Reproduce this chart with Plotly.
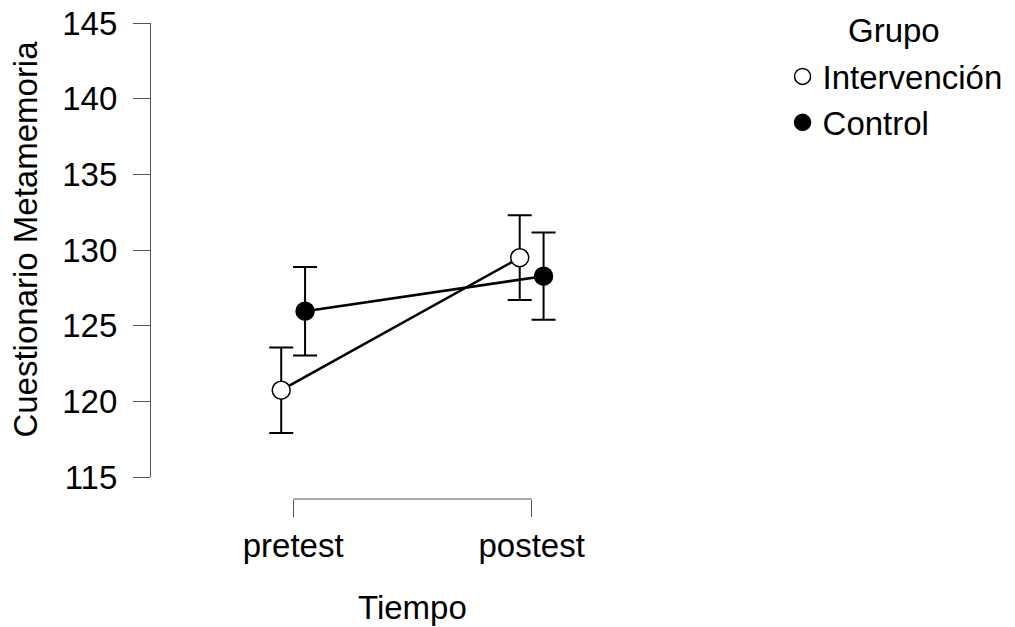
import plotly.graph_objects as go

# Data
categories = ["pretest", "postest"]
groups = ["Intervención", "Control"]
interv_mean = [120.75, 129.50]
interv_err = [2.82, 2.80]
control_mean = [125.97, 128.28]
control_err = [2.92, 2.88]
y_ticks = [115, 120, 125, 130, 135, 140, 145]

cat_pos = list(range(len(categories)))
dodge = 0.05
FONT = "Liberation Sans, Arial, sans-serif"
FS = 33
AXC = "#555555"

series = [
    (groups[0], interv_mean, interv_err, -dodge, "white"),
    (groups[1], control_mean, control_err, dodge, "black"),
]

fig = go.Figure()
# connecting lines first
for name, m, e, off, fill in series:
    xs = [p + off for p in cat_pos]
    fig.add_trace(go.Scatter(x=xs, y=m, mode="lines", showlegend=False,
                             line=dict(color="black", width=2.6), hoverinfo="skip"))
for name, m, e, off, fill in series:
    xs = [p + off for p in cat_pos]
    fig.add_trace(go.Scatter(
        x=xs, y=m, mode="markers", name=name,
        marker=dict(size=18, color=fill, line=dict(color="black", width=1.5)),
        error_y=dict(type="data", array=e, visible=True, color="black",
                     thickness=2, width=12),
    ))

# x-axis bracket line spanning the categories
fig.add_shape(type="line", xref="x", yref="paper", x0=cat_pos[0], x1=cat_pos[-1],
              y0=0, y1=0, line=dict(color=AXC, width=1.2))

fig.add_annotation(text="Tiempo", xref="x", yref="paper",
                   x=(cat_pos[0] + cat_pos[-1]) / 2, y=-0.228,
                   xanchor="center", yanchor="middle",
                   showarrow=False, font=dict(family=FONT, size=FS, color="black"))
fig.add_annotation(text="Cuestionario Metamemoria", xref="paper", yref="paper",
                   x=-0.262, y=0.545, textangle=-90,
                   xanchor="center", yanchor="middle",
                   showarrow=False, font=dict(family=FONT, size=FS, color="black"))
fig.add_annotation(text="Grupo", xref="paper", yref="paper",
                   x=1.558, y=0.9847, xanchor="center", yanchor="middle",
                   showarrow=False, font=dict(family=FONT, size=FS, color="black"))

fig.update_layout(
    width=1007, height=619,
    margin=dict(l=143, r=386.6, t=14.7, b=128, autoexpand=False),
    paper_bgcolor="white", plot_bgcolor="white",
    font=dict(family=FONT, size=FS, color="black"),
    xaxis=dict(range=[-0.596, 1.404], tickvals=cat_pos, ticktext=categories,
               anchor="free", position=0, showline=False, showgrid=False,
               zeroline=False, ticks="outside", ticklen=17, tickwidth=1.2,
               tickcolor=AXC, automargin=False,
               tickfont=dict(size=FS, color="black")),
    yaxis=dict(range=[115, 145], domain=[0.0456, 1], tickvals=y_ticks,
               showline=True, linecolor=AXC, linewidth=1.2, showgrid=False,
               zeroline=False, ticks="outside", ticklen=17, tickwidth=1.2,
               tickcolor=AXC, ticklabelstandoff=9, automargin=False,
               ticklabeloverflow="allow",
               tickfont=dict(size=FS, color="black")),
    legend=dict(x=1.324, y=0.9465, xanchor="left", yanchor="top",
                font=dict(size=FS), bgcolor="rgba(0,0,0,0)", tracegroupgap=0),
    showlegend=True,
)

fig.write_html("out.html")
